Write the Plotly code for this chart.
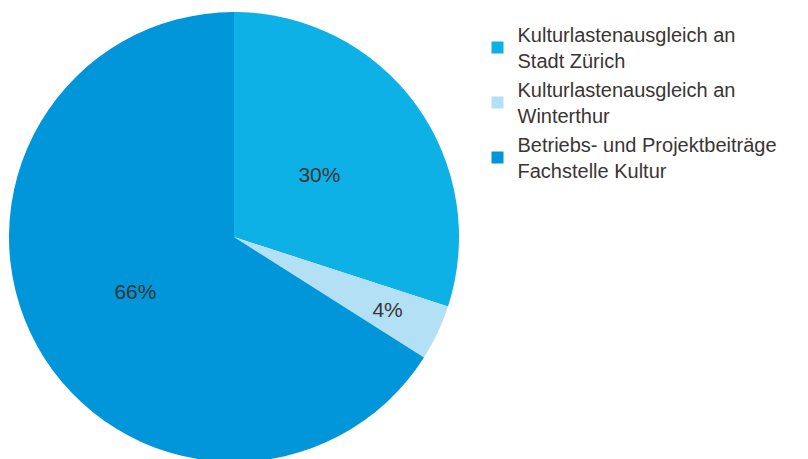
import plotly.graph_objects as go

labels = ["Kulturlastenausgleich an<br>Stadt Zürich",
          "Kulturlastenausgleich an<br>Winterthur",
          "Betriebs- und Projektbeiträge<br>Fachstelle Kultur"]
values = [30, 4, 66]
colors = ["#0db1e6", "#b3e0f5", "#0096d9"]

W, H = 808, 459
T, B = 4, 5
PH = H - T - B
R = 225
CX = 226
FONT = "Liberation Sans, Arial"
TXT = "#3a3533"

fig = go.Figure()
fig.add_trace(go.Pie(
    labels=labels, values=values, sort=False, direction="clockwise", rotation=0,
    marker=dict(colors=colors, line=dict(width=0)),
    texttemplate=["", "", "%{percent:.0%}"],
    textposition="inside", insidetextorientation="horizontal",
    textfont=dict(family=FONT, size=21, color=TXT),
    domain=dict(x=[(CX - R) / W, (CX + R) / W], y=[0, 1]),
    hoverinfo="label+percent",
))
# transparent overlay, only to place the smaller slices' labels further inward
r2 = 191
fig.add_trace(go.Pie(
    labels=labels, values=values, sort=False, direction="clockwise", rotation=0,
    marker=dict(colors=["rgba(0,0,0,0)"] * 3, line=dict(width=0)),
    texttemplate=["%{percent:.0%}", "%{percent:.0%}", ""],
    textposition="inside", insidetextorientation="horizontal",
    textfont=dict(family=FONT, size=21, color=TXT),
    domain=dict(x=[(CX - r2) / W, (CX + r2) / W],
                y=[(R - r2) / PH, (R + r2) / PH]),
    hoverinfo="skip", showlegend=False,
))
fig.update_layout(
    width=W, height=H, margin=dict(l=0, r=0, t=T, b=B),
    paper_bgcolor="white", plot_bgcolor="white",
    font=dict(family=FONT, color=TXT),
    uniformtext=dict(minsize=21, mode="show"),
    legend=dict(x=469.5 / W, xanchor="left", y=1 - 3 / PH, yanchor="top",
                font=dict(size=20, color=TXT), tracegroupgap=0,
                bgcolor="rgba(0,0,0,0)"),
)
fig.write_html("out.html")
